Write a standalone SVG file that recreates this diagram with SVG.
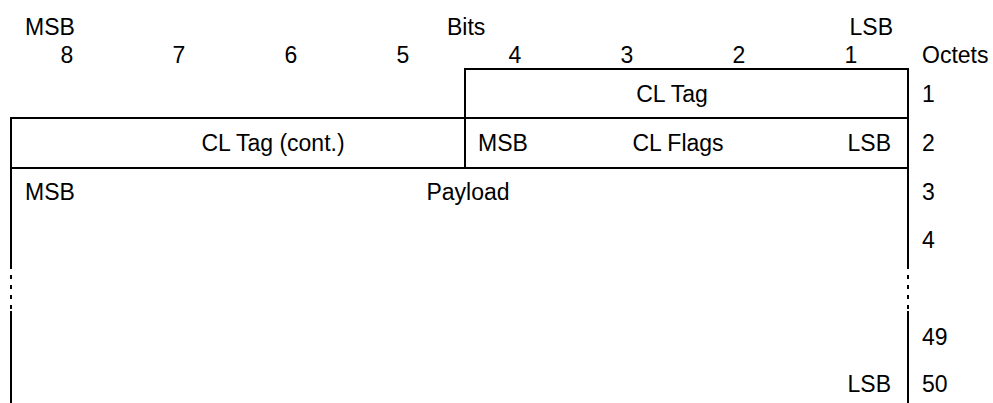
<svg xmlns="http://www.w3.org/2000/svg" width="993" height="403" viewBox="0 0 993 403">
<style>
text{font-family:"Liberation Sans",Arial,sans-serif;font-size:23px;fill:#000}
.m{text-anchor:middle}
.e{text-anchor:end}
.ln{stroke:#000;stroke-width:2;fill:none}
.dash{stroke:#000;stroke-width:2;fill:none;stroke-dasharray:4 6}
</style>
<rect width="993" height="403" fill="#fff"/>
<g id="header">
<text x="25" y="35">MSB</text>
<text x="447" y="35">Bits</text>
<text x="893" y="35" class="e">LSB</text>
<text x="67" y="63" class="m">8</text>
<text x="179" y="63" class="m">7</text>
<text x="291" y="63" class="m">6</text>
<text x="403" y="63" class="m">5</text>
<text x="515" y="63" class="m">4</text>
<text x="627" y="63" class="m">3</text>
<text x="739" y="63" class="m">2</text>
<text x="851" y="63" class="m">1</text>
<text x="922" y="63">Octets</text>
</g>
<g id="octets">
<text x="922" y="102">1</text>
<text x="922" y="151">2</text>
<text x="922" y="200">3</text>
<text x="922" y="248">4</text>
<text x="922" y="345">49</text>
<text x="922" y="392">50</text>
</g>
<g id="lines">
<line class="ln" x1="465" y1="69" x2="909" y2="69"/>
<line class="ln" x1="10" y1="118" x2="909" y2="118"/>
<line class="ln" x1="10" y1="168" x2="909" y2="168"/>
<line class="ln" x1="465" y1="68" x2="465" y2="169"/>
<line class="ln" x1="908" y1="68" x2="908" y2="265"/>
<line class="dash" x1="908" y1="265" x2="908" y2="313"/>
<line class="ln" x1="908" y1="311" x2="908" y2="403"/>
<line class="ln" x1="11" y1="117" x2="11" y2="265"/>
<line class="dash" x1="11" y1="265" x2="11" y2="313"/>
<line class="ln" x1="11" y1="311" x2="11" y2="403"/>
</g>
<g id="cl-tag">
<text x="672" y="102" class="m">CL Tag</text>
</g>
<g id="cl-tag-cont">
<text x="273" y="151" class="m">CL Tag (cont.)</text>
</g>
<g id="cl-flags">
<text x="478" y="151">MSB</text>
<text x="678" y="151" class="m">CL Flags</text>
<text x="891" y="151" class="e">LSB</text>
</g>
<g id="payload">
<text x="25" y="200">MSB</text>
<text x="468" y="200" class="m">Payload</text>
<text x="891" y="392" class="e">LSB</text>
</g>
</svg>
